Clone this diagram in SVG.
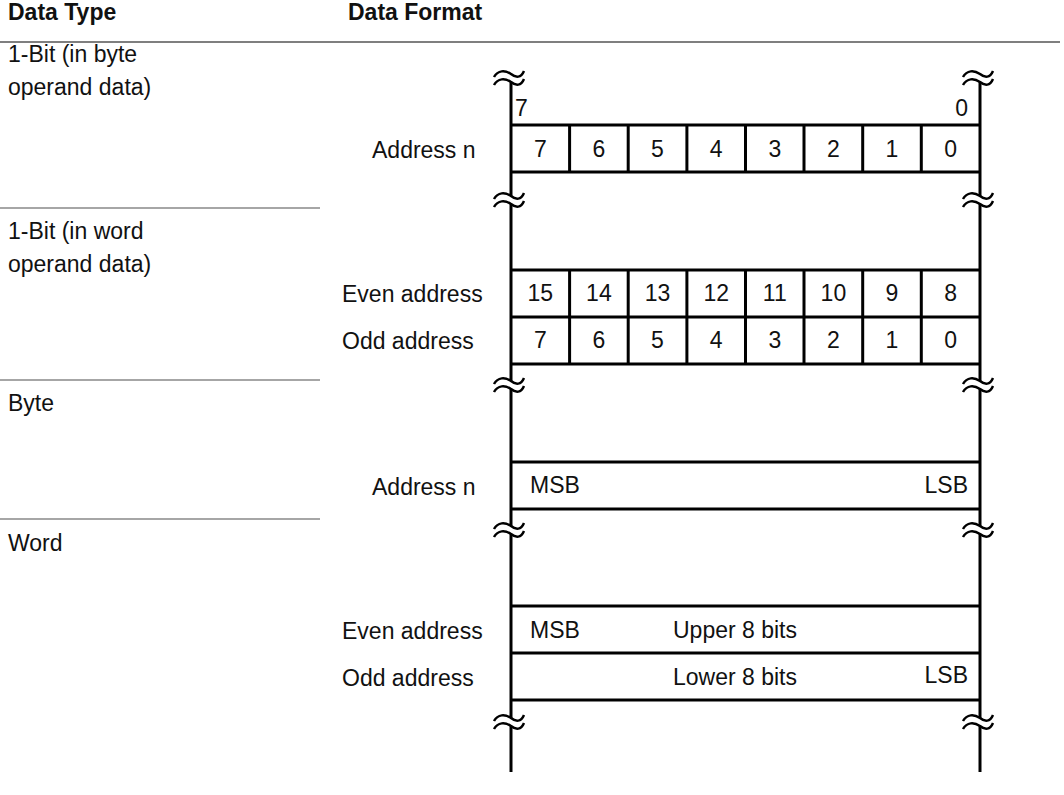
<svg xmlns="http://www.w3.org/2000/svg" width="1064" height="795" viewBox="0 0 1064 795">
<style>
text{font-family:"Liberation Sans",Arial,sans-serif;font-size:23px;fill:#111}
.h{font-weight:bold}
.c{text-anchor:middle}
.r{text-anchor:end}
.ln{stroke:#000;stroke-width:3;fill:none}
.sep{stroke:#888;stroke-width:1.5}
.wv{stroke:#000;stroke-width:2.5;fill:none}
</style>
<defs>
<path id="w" d="M-17,3 C-13,-4 -6,-4 0,0 C5,4 10,4 13,-3"/>
<g id="brk"><use href="#w" transform="translate(0,-4)"/><use href="#w" transform="translate(0,4)"/></g>
</defs>
<rect width="1064" height="795" fill="#fff"/>
<g id="header">
<text class="h" x="8" y="20">Data Type</text>
<text class="h" x="348" y="20">Data Format</text>
<line x1="0" y1="42" x2="1060" y2="42" stroke="#555" stroke-width="1.5"/>
</g>
<g id="types">
<text x="8" y="62">1-Bit (in byte</text>
<text x="8" y="95">operand data)</text>
<line class="sep" x1="0" y1="208" x2="320" y2="208"/>
<text x="8" y="239">1-Bit (in word</text>
<text x="8" y="272">operand data)</text>
<line class="sep" x1="0" y1="380" x2="320" y2="380"/>
<text x="8" y="411">Byte</text>
<line class="sep" x1="0" y1="519" x2="320" y2="519"/>
<text x="8" y="551">Word</text>
</g>
<g id="rails">
<g class="ln">
<line x1="511" y1="82" x2="511" y2="196"/><line x1="511" y1="204" x2="511" y2="381"/><line x1="511" y1="389" x2="511" y2="526"/><line x1="511" y1="534" x2="511" y2="718"/><line x1="511" y1="726" x2="511" y2="772"/>
<line x1="980" y1="82" x2="980" y2="196"/><line x1="980" y1="204" x2="980" y2="381"/><line x1="980" y1="389" x2="980" y2="526"/><line x1="980" y1="534" x2="980" y2="718"/><line x1="980" y1="726" x2="980" y2="772"/>
</g>
<g class="wv">
<use href="#brk" x="511" y="78"/><use href="#brk" x="511" y="200"/><use href="#brk" x="511" y="385"/><use href="#brk" x="511" y="530"/><use href="#brk" x="511" y="722"/>
<use href="#brk" x="980" y="78"/><use href="#brk" x="980" y="200"/><use href="#brk" x="980" y="385"/><use href="#brk" x="980" y="530"/><use href="#brk" x="980" y="722"/>
</g>
<text x="515" y="116">7</text>
<text class="r" x="968" y="116">0</text>
</g>
<g id="bitbyte">
<text x="372" y="158">Address n</text>
<g class="ln">
<line x1="511" y1="125" x2="980" y2="125"/><line x1="511" y1="172" x2="980" y2="172"/>
<path d="M569.6,125V172M628.2,125V172M686.9,125V172M745.5,125V172M804,125V172M862.7,125V172M921.3,125V172"/>
</g>
<g class="c"><text x="540.3" y="157">7</text><text x="598.9" y="157">6</text><text x="657.5" y="157">5</text><text x="716.2" y="157">4</text><text x="774.8" y="157">3</text><text x="833.4" y="157">2</text><text x="892" y="157">1</text><text x="950.7" y="157">0</text></g>
</g>
<g id="bitword">
<text x="342" y="302">Even address</text>
<text x="342" y="349">Odd address</text>
<g class="ln">
<line x1="511" y1="270" x2="980" y2="270"/><line x1="511" y1="317" x2="980" y2="317"/><line x1="511" y1="364" x2="980" y2="364"/>
<path d="M569.6,270V364M628.2,270V364M686.9,270V364M745.5,270V364M804,270V364M862.7,270V364M921.3,270V364"/>
</g>
<g class="c"><text x="540.3" y="301">15</text><text x="598.9" y="301">14</text><text x="657.5" y="301">13</text><text x="716.2" y="301">12</text><text x="774.8" y="301">11</text><text x="833.4" y="301">10</text><text x="892" y="301">9</text><text x="950.7" y="301">8</text></g>
<g class="c"><text x="540.3" y="348">7</text><text x="598.9" y="348">6</text><text x="657.5" y="348">5</text><text x="716.2" y="348">4</text><text x="774.8" y="348">3</text><text x="833.4" y="348">2</text><text x="892" y="348">1</text><text x="950.7" y="348">0</text></g>
</g>
<g id="byte">
<text x="372" y="495">Address n</text>
<g class="ln"><line x1="511" y1="462" x2="980" y2="462"/><line x1="511" y1="509" x2="980" y2="509"/></g>
<text x="530" y="493">MSB</text>
<text class="r" x="968" y="493">LSB</text>
</g>
<g id="word">
<text x="342" y="639">Even address</text>
<text x="342" y="686">Odd address</text>
<g class="ln"><line x1="511" y1="606" x2="980" y2="606"/><line x1="511" y1="653" x2="980" y2="653"/><line x1="511" y1="700" x2="980" y2="700"/></g>
<text x="530" y="638">MSB</text>
<text x="673" y="638">Upper 8 bits</text>
<text x="673" y="685">Lower 8 bits</text>
<text class="r" x="968" y="683">LSB</text>
</g>
</svg>
